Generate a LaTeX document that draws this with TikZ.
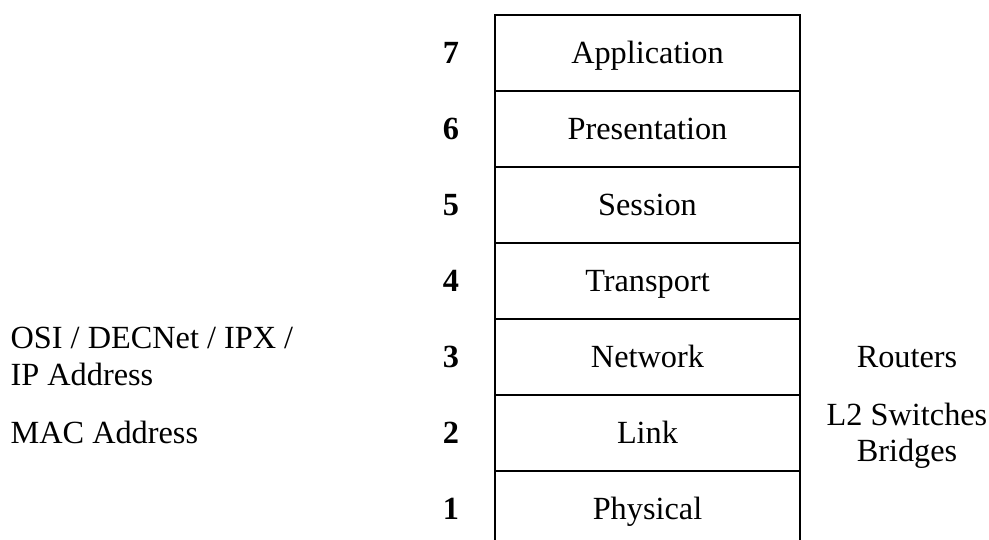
\documentclass[tikz,border=0pt]{standalone}
\usepackage{fontspec}
\setmainfont{Liberation Serif}
\begin{document}
\fontsize{32.3}{37}\selectfont
\begin{tikzpicture}[x=1pt, y=-1pt, line width=1.2pt,
  layer/.style={draw, minimum width=305pt, minimum height=76pt, inner sep=0pt, text height=21pt, text depth=0pt},
  num/.style={font=\bfseries, inner sep=0pt, text height=21pt, text depth=0pt},
  note/.style={inner sep=0pt}]
\useasboundingbox (0,0) rectangle (989,540);
\clip (0,0) rectangle (989,540);
% the seven layers, top down
\foreach \n/\name [count=\i] in {7/Application, 6/Presentation, 5/Session, 4/Transport, 3/Network, 2/Link, 1/Physical} {
  \node [layer] (layer\n) at (647.5, 53+76*\i-76) {\name};
  \node [num] (num\n) at (451, 53+76*\i-76) {\n};
}
% addressing on the left, devices on the right
% (base of a two-line node sits on its last line)
\node [note, align=left, anchor=base west] (addr3) at (10,385) {OSI / DECNet / IPX /\\IP Address};
\node [note, anchor=base west] (addr2) at (10,443) {MAC Address};
\node [note, anchor=base] (dev3) at (907,367) {Routers};
\node [note, align=center, anchor=base] (dev2) at (907,461) {L2 Switches\\[-1pt]Bridges};
\end{tikzpicture}
\end{document}
